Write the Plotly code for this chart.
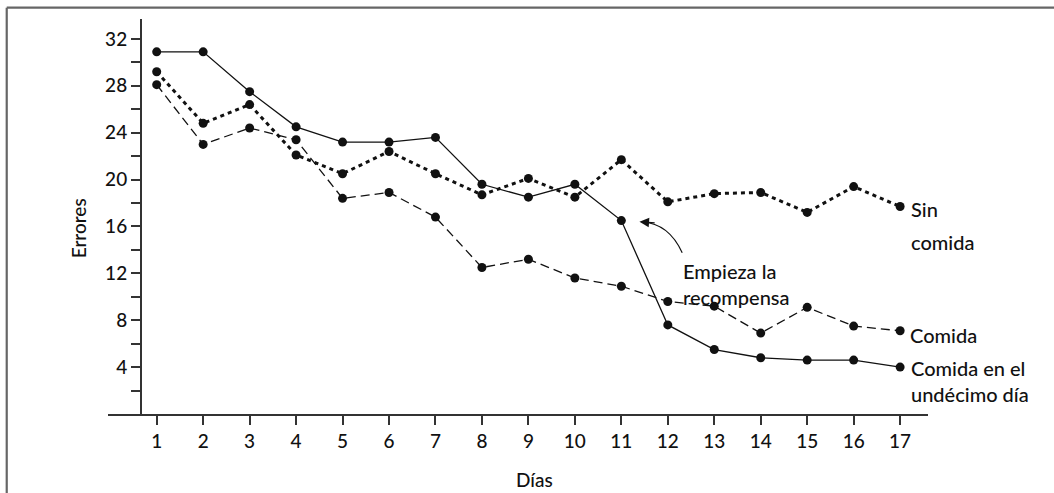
import plotly.graph_objects as go

# ---- data ----
dias = list(range(1, 18))
comida_undecimo = [30.9, 30.9, 27.5, 24.5, 23.2, 23.2, 23.6, 19.6, 18.5, 19.6, 16.5, 7.6, 5.5, 4.8, 4.6, 4.6, 4.0]
comida = [28.1, 23.0, 24.4, 23.4, 18.4, 18.9, 16.8, 12.5, 13.2, 11.6, 10.9, 9.6, 9.2, 6.9, 9.1, 7.5, 7.1]
sin_comida = [29.2, 24.8, 26.4, 22.1, 20.5, 22.4, 20.5, 18.7, 20.1, 18.5, 21.7, 18.1, 18.8, 18.9, 17.2, 19.4, 17.7]

y_tickvals = [2, 4, 6, 8, 10, 12, 14, 16, 18, 20, 22, 24, 26, 28, 30, 32]
y_ticktext = ["", "4", "", "8", "", "12", "", "16", "", "20", "", "24", "", "28", "", "32"]
x_ticktext = [str(d) for d in dias]

FONT = "Lato, 'Noto Sans', sans-serif"
INK = "#111111"
AXIS = "#333333"
W = 500

fig = go.Figure()

marker = dict(size=9, color="#111111")

fig.add_trace(go.Scatter(x=dias, y=sin_comida, mode="lines+markers",
                         line=dict(color="#111111", width=3, dash="4px,4px"),
                         marker=marker, name="Sin comida"))
fig.add_trace(go.Scatter(x=dias, y=comida, mode="lines+markers",
                         line=dict(color="#111111", width=1.3, dash="9px,5px"),
                         marker=marker, name="Comida"))
fig.add_trace(go.Scatter(x=dias, y=comida_undecimo, mode="lines+markers",
                         line=dict(color="#111111", width=1.3),
                         marker=marker, name="Comida en el undécimo día"))

last = len(dias) - 1
lab_font = dict(family=FONT, size=20, color=INK, weight=W)
annotations = [
    dict(x=dias[last], y=sin_comida[last], text="Sin", xanchor="left", yanchor="middle",
         xshift=9, yshift=-2, showarrow=False, font=lab_font),
    dict(x=dias[last], y=sin_comida[last], text="comida", xanchor="left", yanchor="middle",
         xshift=9, yshift=-35, showarrow=False, font=lab_font),
    dict(x=dias[last], y=comida[last], text="Comida", xanchor="left", yanchor="middle",
         xshift=8, yshift=-4, showarrow=False, font=lab_font),
    dict(x=dias[last], y=comida_undecimo[last], text="Comida en el<br>undécimo día", xanchor="left",
         yanchor="top", xshift=9, yshift=13, showarrow=False, font=lab_font, align="left"),
    dict(x=12.35, y=comida_undecimo[10] - 4.1, text="Empieza la<br>recompensa", xanchor="left",
         yanchor="top", xshift=-3, yshift=12, showarrow=False, font=lab_font, align="left"),
    # arrow head
    dict(x=11.39, y=16.4, ax=11.75, ay=16.3, axref="x", ayref="y", xref="x", yref="y",
         text="", showarrow=True, arrowhead=2, arrowsize=1.6, arrowwidth=1.2, arrowcolor="#111111"),
    # axis titles
    dict(x=0.52, y=-0.165, xref="paper", yref="paper", text="Días", showarrow=False,
         xanchor="center", yanchor="middle", font=dict(family=FONT, size=19, color=INK, weight=W)),
    dict(x=-0.0366, y=0.47, xref="paper", yref="paper", text="Errores", showarrow=False,
         textangle=-90, xanchor="center", yanchor="middle",
         font=dict(family=FONT, size=19, color=INK, weight=W)),
]

shapes = [
    # curved arrow line
    dict(type="path", xref="x", yref="y", path="M 12.31,13.76 Q 12.02,16.26 11.45,16.38",
         line=dict(color="#111111", width=1.2)),
    # frame
    dict(type="line", xref="paper", yref="paper", x0=-0.1235, y0=-0.3, x1=-0.1235, y1=1.0286,
         line=dict(color="#666666", width=2.2)),
    dict(type="line", xref="paper", yref="paper", x0=-0.1235, y0=1.0286, x1=1.2, y1=1.0286,
         line=dict(color="#666666", width=2.2)),
]

tick_font = dict(family=FONT, size=19, color=INK, weight=W)

fig.update_layout(
    width=1054, height=493,
    margin=dict(l=108, r=126, t=19, b=79),
    paper_bgcolor="white", plot_bgcolor="white",
    showlegend=False,
    font=dict(family=FONT, size=19, color=INK),
    annotations=annotations,
    shapes=shapes,
    xaxis=dict(range=[-0.048, 17.6], tickvals=dias, ticktext=x_ticktext,
               showgrid=False, zeroline=False, showline=True, linecolor=AXIS, linewidth=1.5,
               ticks="outside", ticklen=9, tickwidth=1.5, tickcolor=AXIS,
               tickfont=tick_font, fixedrange=True),
    yaxis=dict(range=[0, 33.7], tickvals=y_tickvals, ticktext=y_ticktext,
               anchor="free", position=0.0399,
               showgrid=False, zeroline=False, showline=True, linecolor=AXIS, linewidth=1.5,
               ticks="outside", ticklen=9, tickwidth=1.5, tickcolor=AXIS,
               tickfont=tick_font, fixedrange=True),
)

fig.write_html("out.html", config={"displayModeBar": False},
               post_script="document.body.style.margin='0';document.body.style.overflow='hidden';")
